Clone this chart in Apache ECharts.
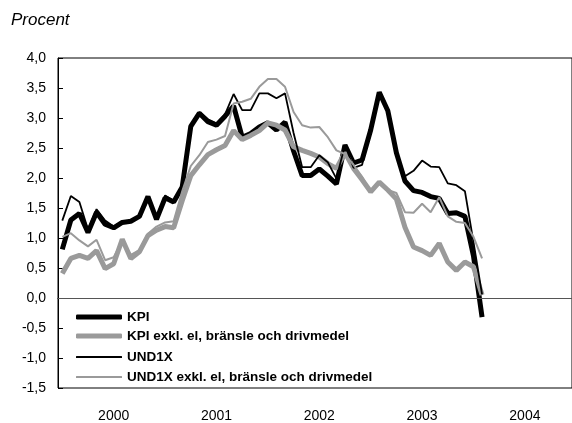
<!DOCTYPE html>
<html>
<head>
<meta charset="utf-8">
<script src="https://cdn.jsdelivr.net/npm/echarts@6/dist/echarts.min.js"></script>
<style>
  html, body { margin: 0; padding: 0; background: #fff; }
  #chart { width: 572px; height: 423px; }
</style>
</head>
<body>
<div id="chart"></div>
<script>
// år och månader på x-axeln
const years = ["2000", "2001", "2002", "2003", "2004"];
const months = ["jan", "feb", "mar", "apr", "maj", "jun", "jul", "aug", "sep", "okt", "nov", "dec"];

// årlig procentuell förändring, jan 2000 - feb 2004
const kpi = [
  0.81, 1.30, 1.41, 1.09, 1.43, 1.23, 1.17, 1.26, 1.28, 1.36, 1.69, 1.31,
  1.67, 1.60, 1.85, 2.86, 3.08, 2.94, 2.88, 3.03, 3.20, 2.68, 2.74, 2.85,
  2.92, 2.80, 2.93, 2.45, 2.04, 2.04, 2.15, 2.03, 1.90, 2.55, 2.25, 2.30,
  2.80, 3.43, 3.12, 2.42, 1.95, 1.79, 1.76, 1.69, 1.66, 1.41, 1.42, 1.36,
  0.70, -0.32
];
const kpiExkl = [
  0.41, 0.66, 0.71, 0.66, 0.79, 0.49, 0.57, 0.98, 0.66, 0.77, 1.04, 1.13,
  1.19, 1.17, 1.62, 2.04, 2.22, 2.39, 2.47, 2.54, 2.79, 2.64, 2.71, 2.79,
  2.92, 2.88, 2.80, 2.52, 2.46, 2.41, 2.35, 2.24, 2.16, 2.42, 2.16, 1.97,
  1.77, 1.93, 1.80, 1.65, 1.18, 0.85, 0.79, 0.71, 0.91, 0.60, 0.46, 0.60,
  0.52, 0.05
];
const und1x = [
  1.29, 1.70, 1.60, 1.14, 1.48, 1.29, 1.19, 1.28, 1.28, 1.38, 1.69, 1.33,
  1.71, 1.62, 1.85, 2.89, 3.10, 2.98, 2.91, 3.06, 3.40, 3.13, 3.13, 3.41,
  3.41, 3.33, 3.41, 2.75, 2.18, 2.18, 2.38, 2.26, 1.99, 2.55, 2.17, 2.22,
  2.82, 3.43, 3.12, 2.43, 2.03, 2.12, 2.29, 2.19, 2.18, 1.91, 1.88, 1.78,
  0.93, 0.06
];
const und1xExkl = [
  1.02, 1.08, 0.96, 0.86, 0.97, 0.63, 0.68, 0.95, 0.72, 0.80, 1.07, 1.19,
  1.26, 1.28, 1.78, 2.20, 2.38, 2.60, 2.64, 2.70, 3.24, 3.27, 3.32, 3.52,
  3.65, 3.65, 3.52, 3.10, 2.88, 2.84, 2.85, 2.68, 2.46, 2.40, 2.22, 2.02,
  1.76, 1.93, 1.80, 1.75, 1.43, 1.42, 1.57, 1.43, 1.68, 1.36, 1.27, 1.25,
  1.02, 0.66
];

const categories = [];
years.forEach((y) => months.forEach((m) => categories.push(y + " " + m)));

const font = "'Liberation Sans', Arial, sans-serif";
const grey = "#9a9a9a";

// en legend per rad så att ikonerna får olika tjocklek
const legendRows = [
  { name: "KPI", top: 310, h: 5 },
  { name: "KPI exkl. el, bränsle och drivmedel", top: 329, h: 5 },
  { name: "UND1X", top: 350, h: 2 },
  { name: "UND1X exkl. el, bränsle och drivmedel", top: 370, h: 2 }
];

const chart = echarts.init(document.getElementById("chart"));
chart.setOption({
  animation: false,
  textStyle: { fontFamily: font },
  title: {
    text: "Procent",
    left: 6,
    top: 7,
    textStyle: { fontFamily: font, fontStyle: "italic", fontWeight: "normal", fontSize: 17, color: "#000" }
  },
  grid: { left: 58, top: 58, right: -4, bottom: 35, show: true, borderColor: "#000", borderWidth: 1 },
  legend: legendRows.map((r) => ({
    left: 76,
    top: r.top,
    padding: 0,
    itemWidth: 46,
    itemHeight: r.h,
    icon: "roundRect",
    textStyle: { fontFamily: font, fontWeight: "bold", fontSize: 13.5, color: "#000", lineHeight: 14 },
    data: [r.name]
  })),
  xAxis: {
    type: "category",
    data: categories,
    boundaryGap: true,
    axisLine: { lineStyle: { color: "#000", width: 1 } },
    axisTick: { length: 7, interval: (i) => i % 12 === 0, lineStyle: { color: "#000" } },
    axisLabel: {
      interval: (i) => i % 12 === 6,
      formatter: (v) => v.split(" ")[0],
      margin: 21,
      fontSize: 14,
      color: "#000"
    },
    splitLine: { show: false }
  },
  yAxis: {
    type: "value",
    min: -1.5,
    max: 4,
    interval: 0.5,
    axisLine: { show: true, lineStyle: { color: "#000", width: 1 } },
    axisTick: { show: true, inside: true, length: 5, lineStyle: { color: "#000" } },
    axisLabel: { formatter: (v) => v.toFixed(1).replace(".", ","), margin: 12, fontSize: 14, color: "#000" },
    splitLine: { show: false }
  },
  series: [
    {
      name: "KPI",
      type: "line",
      data: kpi,
      symbol: "none",
      lineStyle: { color: "#000", width: 5 },
      itemStyle: { color: "#000" },
      markLine: {
        silent: true,
        symbol: "none",
        label: { show: false },
        lineStyle: { color: "#555", width: 1, type: "solid" },
        data: [{ yAxis: 0 }]
      }
    },
    {
      name: "KPI exkl. el, bränsle och drivmedel",
      type: "line",
      data: kpiExkl,
      symbol: "none",
      lineStyle: { color: grey, width: 5 },
      itemStyle: { color: grey }
    },
    {
      name: "UND1X",
      type: "line",
      data: und1x,
      symbol: "none",
      lineStyle: { color: "#000", width: 1.8 },
      itemStyle: { color: "#000" }
    },
    {
      name: "UND1X exkl. el, bränsle och drivmedel",
      type: "line",
      data: und1xExkl,
      symbol: "none",
      lineStyle: { color: grey, width: 2 },
      itemStyle: { color: grey }
    }
  ]
});
</script>
</body>
</html>
